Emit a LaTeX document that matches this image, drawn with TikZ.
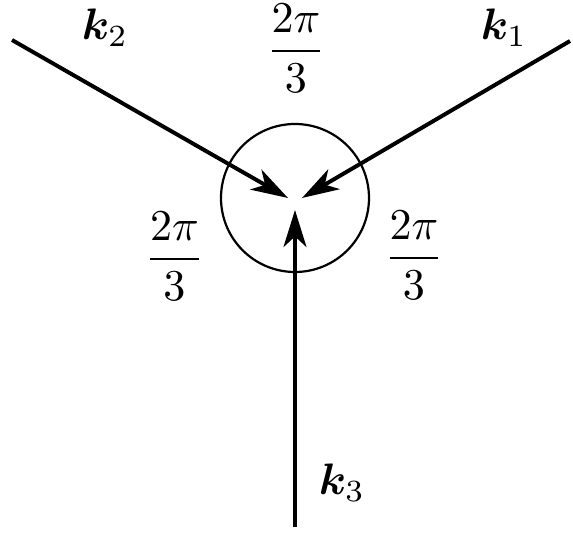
\documentclass[tikz,border=0pt]{standalone}
\usepackage{bm}
\usetikzlibrary{arrows.meta}
\tikzset{
  wave/.style={line width=0.9pt, -{Stealth[length=8.4pt,width=5.2pt,inset=2.4pt]}},
  ring/.style={circle, draw, line width=0.5pt, minimum size=148*0.227pt, inner sep=0pt},
  lbl/.style={inner sep=0pt}
}
\begin{document}
\begin{tikzpicture}[x=0.227pt,y=-0.227pt]
\useasboundingbox (0,0) rectangle (573,533);
\node[ring] (c) at (295,198) {};
\coordinate (s2) at (12,40);
\coordinate (t2) at (288,198);
\coordinate (s1) at (570,41);
\coordinate (t1) at (302,198);
\coordinate (s3) at (295,527);
\coordinate (t3) at (295,210);
\draw[wave] (s2) -- (t2);
\draw[wave] (s1) -- (t1);
\draw[wave] (s3) -- (t3);
\node[lbl] (k2) at (105,28) {$\bm{k}_2$};
\node[lbl] (k1) at (504,28) {$\bm{k}_1$};
\node[lbl] (k3) at (342,483) {$\bm{k}_3$};
\node[lbl] (a1) at (296,48) {$\displaystyle\frac{2\pi}{3}$};
\node[lbl] (a2) at (174.5,256) {$\displaystyle\frac{2\pi}{3}$};
\node[lbl] (a3) at (414,255) {$\displaystyle\frac{2\pi}{3}$};
\end{tikzpicture}
\end{document}
